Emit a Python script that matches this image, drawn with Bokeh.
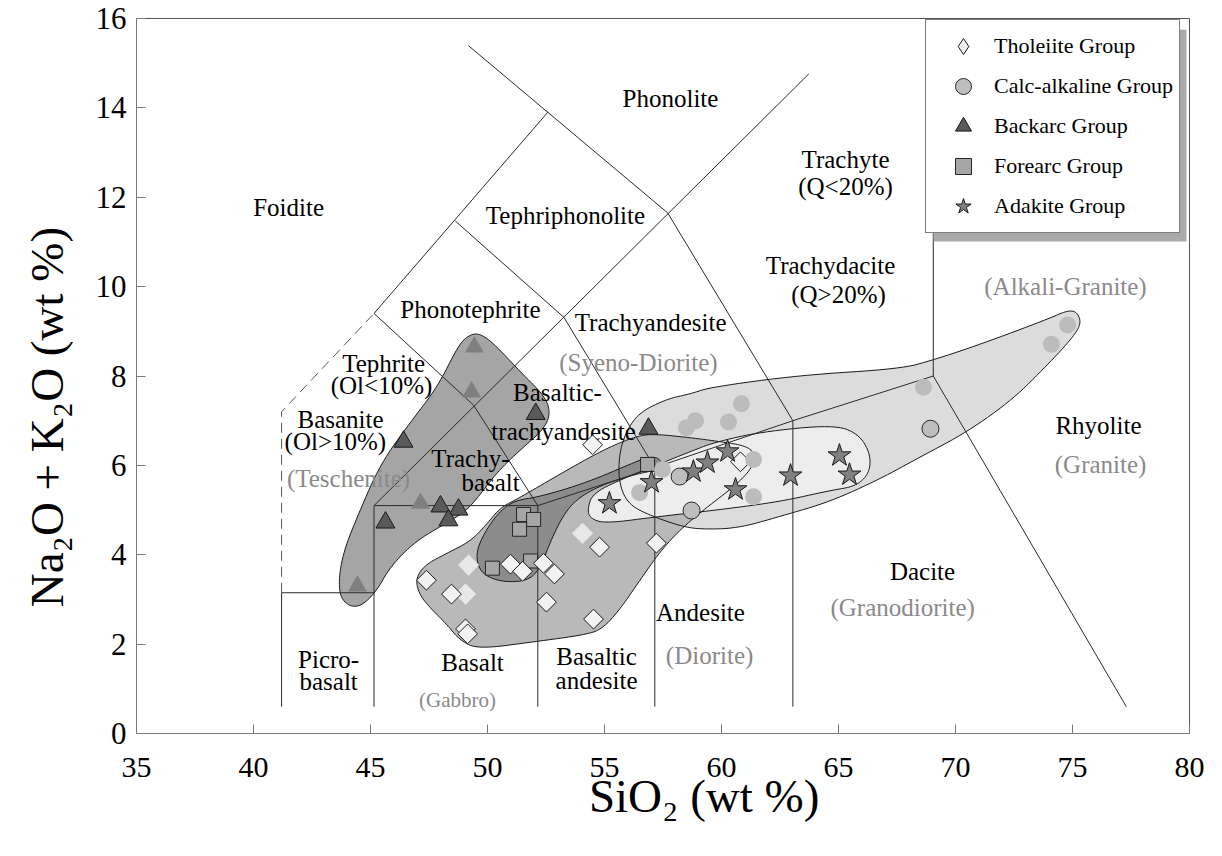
import numpy as np
from bokeh.plotting import figure
from bokeh.models import Range1d, FixedTicker, Legend, LegendItem, BoxAnnotation
from bokeh.core.properties import value
from bokeh.embed import file_html
from bokeh.resources import INLINE

SERIF = "Liberation Serif"
NBSP = "\u00a0"

# ---------------- sample compositions: SiO2 vs Na2O+K2O (wt %) ----------------
thol_sio2 = [47.39, 48.46, 49.06, 49.15, 50.98, 51.50, 52.39, 52.86, 52.52, 54.49, 54.79, 54.53, 57.22, 60.81]
thol_alk = [3.43, 3.12, 2.34, 2.23, 3.79, 3.63, 3.81, 3.57, 2.94, 6.46, 4.17, 2.56, 4.26, 6.08]
thol_lit_sio2 = [49.19, 49.06, 54.06]
thol_lit_alk = [3.77, 3.12, 4.48]

calc_sio2 = [58.21, 58.72, 68.93]
calc_alk = [5.75, 4.99, 6.82]
calc_lit_sio2 = [60.85, 60.30, 58.89, 58.50, 61.37, 57.48, 56.50, 61.37, 74.79, 74.10, 68.63]
calc_lit_alk = [7.38, 6.97, 7.00, 6.84, 6.13, 5.91, 5.39, 5.30, 9.14, 8.71, 7.75]

back_sio2 = [52.06, 46.41, 47.99, 48.76, 48.33, 45.64, 56.88]
back_alk = [7.15, 6.53, 5.08, 5.01, 4.77, 4.72, 6.82]
back_lit_sio2 = [49.44, 49.32, 47.14, 44.44]
back_lit_alk = [8.65, 7.64, 5.15, 3.30]

fore_sio2 = [51.54, 51.97, 51.37, 50.21, 51.84, 56.84]
fore_alk = [4.90, 4.79, 4.57, 3.70, 3.86, 6.02]

adak_sio2 = [55.21, 57.01, 58.80, 59.40, 60.26, 60.60, 62.95, 65.04, 65.47]
adak_alk = [5.15, 5.62, 5.86, 6.06, 6.31, 5.46, 5.77, 6.22, 5.79]

# ---------------- group envelopes (outline vertices) ----------------
env_calc_x = [55.60, 55.64, 55.98, 56.54, 57.69, 58.68, 59.53, 63.38, 67.65, 69.06, 71.07, 73.93, 74.79,
              75.21, 75.38, 74.91, 73.93, 72.48, 70.51, 68.50, 66.79, 64.66, 62.52, 60.68, 59.10, 58.25,
              56.84, 55.98]
env_calc_y = [5.64, 6.31, 6.82, 7.20, 7.49, 7.60, 7.75, 8.02, 8.16, 8.36, 8.71, 9.27, 9.47,
              9.43, 9.16, 8.80, 8.25, 7.49, 6.75, 6.19, 5.70, 5.19, 4.86, 4.59, 4.57, 4.64,
              4.90, 5.15]

env_thol_x = [46.92, 47.31, 48.25, 49.27, 49.96, 50.56, 51.32, 52.69, 54.19, 55.26, 56.20, 56.97, 58.68,
              59.96, 61.03, 61.45, 61.32, 60.60, 59.32, 58.25, 57.39, 56.54, 55.68, 54.91, 54.19, 51.97,
              49.62, 48.85, 48.21, 47.57, 47.10]
env_thol_y = [3.45, 3.77, 4.03, 4.30, 4.68, 5.06, 5.26, 5.68, 6.13, 6.42, 6.62, 6.71, 6.62,
              6.53, 6.44, 6.26, 5.95, 5.55, 5.04, 4.57, 4.08, 3.45, 2.79, 2.34, 2.21, 2.05,
              1.89, 2.07, 2.47, 2.80, 3.10]

env_back_x = [44.44, 43.76, 43.63, 43.85, 44.49, 45.43, 46.71, 47.86, 48.76, 49.19, 49.62, 50.21, 51.41,
              52.48, 52.69, 52.39, 51.41, 50.43, 49.62, 49.06, 48.21, 46.92, 45.85, 45.21]
env_back_y = [2.79, 2.96, 3.41, 4.08, 4.92, 6.04, 6.97, 7.75, 8.69, 8.91, 8.96, 8.76, 8.09,
              7.53, 7.15, 6.80, 6.35, 5.86, 5.30, 4.97, 4.70, 4.30, 3.74, 3.14]

env_fore_x = [51.11, 52.26, 54.27, 56.24, 56.88, 57.31, 57.48, 57.09, 56.24, 54.83, 53.85, 53.25, 52.69,
              52.26, 51.71, 50.56, 49.70, 49.49, 49.83, 50.43]
env_fore_y = [5.21, 5.30, 5.62, 6.06, 6.19, 6.17, 6.02, 5.88, 5.79, 5.55, 5.26, 4.90, 4.30,
              3.70, 3.41, 3.39, 3.59, 4.01, 4.46, 4.92]

env_adak_x = [54.27, 54.49, 55.68, 57.39, 58.68, 59.66, 61.67, 64.79, 65.85, 66.37, 66.32, 65.73, 64.66,
              62.52, 59.96, 57.39, 55.04, 54.40]
env_adak_y = [5.01, 5.37, 5.68, 6.04, 6.31, 6.51, 6.75, 6.91, 6.71, 6.26, 5.82, 5.53, 5.44,
              5.19, 5.01, 4.86, 4.70, 4.81]

# ---------------- TAS classification boundaries ----------------
tas_x = [[41.2, 41.2], [41.2, 45.15], [45.15, 45.15, 52.15, 52.15], [57.15, 57.15], [63.05, 63.05],
         [52.15, 57.15, 63.05, 69.05, 77.3], [69.05, 69.05], [45.15, 63.73], [45.15, 49.4, 52.15],
         [48.62, 53.27, 57.15], [57.70, 63.05], [45.15, 52.59], [49.19, 57.70]]
tas_y = [[0.6, 3.15], [3.15, 3.15], [0.6, 5.1, 5.1, 0.6], [0.6, 5.95], [0.6, 7.0],
         [5.1, 5.95, 7.0, 8.0, 0.6], [8.0, 13.0], [5.1, 14.76], [9.4, 7.35, 5.1],
         [11.47, 9.31, 5.95], [11.65, 7.0], [9.4, 13.91], [15.39, 11.65]]
tas_dash_x = [41.2, 41.2, 45.15]
tas_dash_y = [3.15, 7.2, 9.4]

# ---------------- field names ----------------
field_names = ["Foidite", "Phonolite", "Tephriphonolite", "Phonotephrite", "Trachyandesite",
               "Tephrite", "(Ol<10%)", "Basanite", "(Ol>10%)", "Trachy-", "basalt",
               "Basaltic-", "trachyandesite", "Trachyte", "(Q<20%)", "Trachydacite", "(Q>20%)",
               "Rhyolite", "Dacite", "Andesite", "Picro-", "basalt", "Basalt", "Basaltic", "andesite"]
field_x = [41.50, 57.82, 53.33, 49.27, 56.97, 45.56, 45.47, 43.72, 43.50, 49.27, 50.13,
           52.99, 53.25, 65.30, 65.30, 64.66, 65.00, 76.11, 68.59, 59.10, 43.21, 43.21, 49.36, 54.66, 54.66]
field_y = [11.77, 14.22, 11.59, 9.49, 9.20, 8.27, 7.78, 7.02, 6.53, 6.15, 5.62,
           7.64, 6.75, 12.84, 12.23, 10.47, 9.83, 6.89, 3.63, 2.70, 1.65, 1.16, 1.58, 1.72, 1.18]

plutonic_names = ["(Syeno-Diorite)", "(Teschenite)", "(Alkali-Granite)", "(Granite)", "(Granodiorite)", "(Diorite)"]
plutonic_x = [56.45, 44.06, 74.70, 76.20, 67.74, 59.49]
plutonic_y = [8.31, 5.70, 10.01, 6.02, 2.81, 1.74]
gabbro_name = ["(Gabbro)"]
gabbro_x = [48.72]
gabbro_y = [0.74]


def chaikin(xs, ys, n=3):
    """Round the corners of a closed outline."""
    pts = np.column_stack([xs, ys]).astype(float)
    for _ in range(n):
        nxt = np.roll(pts, -1, axis=0)
        q = 0.75 * pts + 0.25 * nxt
        r = 0.25 * pts + 0.75 * nxt
        out = np.empty((2 * len(pts), 2))
        out[0::2] = q
        out[1::2] = r
        pts = out
    return pts[:, 0], pts[:, 1]


p = figure(width=1222, height=856, output_backend="svg", toolbar_location=None,
           x_range=Range1d(35, 80), y_range=Range1d(0, 16),
           min_border_left=136, min_border_right=33, min_border_top=18, min_border_bottom=123,
           background_fill_color="white", border_fill_color="white")
p.grid.visible = False
p.outline_line_color = "#555555"

# envelope fills, then their outlines on top
envelopes = [(env_calc_x, env_calc_y, "#dcdcdc"),
             (env_thol_x, env_thol_y, "#b9b9b9"),
             (env_back_x, env_back_y, "#a5a5a5"),
             (env_fore_x, env_fore_y, "#8c8c8c"),
             (env_adak_x, env_adak_y, "#ededed")]
smooth = [chaikin(ex, ey) for ex, ey, _ in envelopes]
for (sx, sy), (_, _, col) in zip(smooth, envelopes):
    p.patch(sx, sy, fill_color=col, line_alpha=0)
for sx, sy in smooth:
    p.patch(sx, sy, fill_alpha=0, line_color="#1a1a1a", line_width=1)

# TAS boundaries
p.multi_line(tas_x, tas_y, line_color="#2a2a2a", line_width=1)
p.line(tas_dash_x, tas_dash_y, line_color="#555555", line_width=1, line_dash="10 6")

# field names
p.text(field_x, field_y, text=field_names, text_font=value(SERIF), text_font_size="25px",
       text_align="center", text_baseline="middle", text_color="black")
p.text(plutonic_x, plutonic_y, text=plutonic_names, text_font=value(SERIF), text_font_size="25px",
       text_align="center", text_baseline="middle", text_color="#8a8a8a")
p.text(gabbro_x, gabbro_y, text=gabbro_name, text_font=value(SERIF), text_font_size="21px",
       text_align="center", text_baseline="middle", text_color="#8a8a8a")

# samples
r_fore = p.scatter(fore_sio2, fore_alk, marker="square", size=14,
                   fill_color="#a6a6a6", line_color="#262626", line_width=1)
p.scatter(thol_lit_sio2, thol_lit_alk, marker="square", angle=np.pi / 4, size=15,
          fill_color="#e8e8e8", line_alpha=0)
# diamond key for the legend (legend glyphs ignore rotation); it sits fully
# underneath the rotated-square symbols drawn next
r_thol_key = p.scatter(thol_sio2, thol_alk, marker="diamond", size=12,
                       fill_color="#f2f2f2", line_color="#1a1a1a", line_width=1)
p.scatter(thol_sio2, thol_alk, marker="square", angle=np.pi / 4, size=14,
          fill_color="#f2f2f2", line_color="#1a1a1a", line_width=1)
p.scatter(calc_lit_sio2, calc_lit_alk, marker="circle", size=17,
          fill_color="#bcbcbc", line_alpha=0)
r_calc = p.scatter(calc_sio2, calc_alk, marker="circle", size=17,
                   fill_color="#bebebe", line_color="#262626", line_width=1)
p.scatter(back_lit_sio2, back_lit_alk, marker="triangle", size=19,
          fill_color="#808080", line_alpha=0)
r_back = p.scatter(back_sio2, back_alk, marker="triangle", size=19,
                   fill_color="#5a5a5a", line_color="#1a1a1a", line_width=1)
r_adak = p.scatter(adak_sio2, adak_alk, marker="star", size=24,
                   fill_color="#808080", line_color="#1a1a1a", line_width=1)

# axes
p.xaxis.ticker = FixedTicker(ticks=list(range(35, 81, 5)))
p.yaxis.ticker = FixedTicker(ticks=list(range(0, 17, 2)))
for ax in (p.xaxis[0], p.yaxis[0]):
    ax.axis_line_color = "#7a7a7a"
    ax.major_tick_line_color = "#7a7a7a"
    ax.major_tick_in = 9
    ax.major_tick_out = 0
    ax.minor_tick_line_color = None
    ax.major_label_text_font = SERIF
    ax.major_label_text_color = "black"
    ax.axis_label_text_font = SERIF
    ax.axis_label_text_font_style = "normal"
    ax.axis_label_text_font_size = "47px"
    ax.axis_label_text_color = "black"
p.xaxis.major_label_text_font_size = "30px"
p.yaxis.major_label_text_font_size = "31px"
p.xaxis.major_label_standoff = 24
p.yaxis.major_label_standoff = 10
p.xaxis.axis_label = NBSP * 7 + "SiO\u2082 (wt %)"
p.yaxis.axis_label = "Na\u2082O + K\u2082O (wt %)" + NBSP * 7
p.xaxis.axis_label_standoff = -10
p.yaxis.axis_label_standoff = 20

# legend with drop shadow
p.add_layout(BoxAnnotation(left=69.06, right=79.87, bottom=11.01, top=15.75,
                           fill_color="#a9a9a9", fill_alpha=1, line_alpha=0))
legend = Legend(items=[LegendItem(label="Tholeiite Group", renderers=[r_thol_key]),
                       LegendItem(label="Calc-alkaline Group", renderers=[r_calc]),
                       LegendItem(label="Backarc Group", renderers=[r_back]),
                       LegendItem(label="Forearc Group", renderers=[r_fore]),
                       LegendItem(label="Adakite Group", renderers=[r_adak])],
                location=(789, 500), margin=0, padding=6, spacing=0,
                glyph_width=62, glyph_height=40, label_height=40, label_standoff=0,
                label_text_font=SERIF, label_text_font_size="22px", label_text_color="black",
                border_line_color="black", border_line_width=1,
                background_fill_color="white", background_fill_alpha=1)
p.add_layout(legend)

open("out.html", "w").write(file_html(p, INLINE))
